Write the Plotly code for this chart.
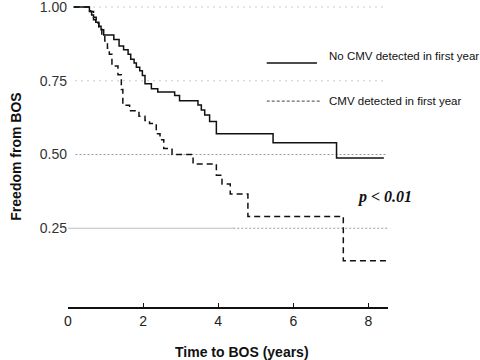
import plotly.graph_objects as go

# Kaplan-Meier style step data (time in years, freedom from BOS)
no_cmv_t = [0.15, 0.57, 0.63, 0.68, 0.74, 0.82, 0.88, 0.95, 1.22, 1.36, 1.48, 1.60, 1.67, 1.76,
            1.82, 1.91, 1.98, 2.05, 2.22, 2.39, 2.84, 2.97, 3.46, 3.55, 3.64, 3.77, 3.95,
            5.46, 7.15, 8.41]
no_cmv_s = [1.00, 0.985, 0.973, 0.957, 0.948, 0.935, 0.923, 0.905, 0.89, 0.868, 0.855, 0.84,
            0.823, 0.81, 0.796, 0.784, 0.768, 0.74, 0.723, 0.712, 0.70, 0.682, 0.668, 0.651,
            0.634, 0.612, 0.57, 0.54, 0.488, 0.488]

cmv_t = [0.15, 0.60, 0.68, 0.75, 0.82, 0.90, 0.98, 1.05, 1.10, 1.17, 1.33, 1.42, 1.46, 1.64,
         1.89, 2.05, 2.17, 2.35, 2.45, 2.55, 2.77, 3.33, 3.95, 4.10, 4.32, 4.79, 7.33, 8.49]
cmv_s = [1.00, 0.985, 0.965, 0.945, 0.925, 0.905, 0.885, 0.86, 0.84, 0.80, 0.77, 0.72, 0.667,
         0.648, 0.63, 0.615, 0.605, 0.57, 0.55, 0.52, 0.50, 0.468, 0.43, 0.40, 0.366, 0.29,
         0.14, 0.14]

x_ticks = [0, 2, 4, 6, 8]
y_ticks = [0.25, 0.50, 0.75, 1.00]
y_tick_text = ["0.25", "0.50", "0.75", "1.00"]

legend_names = ["No CMV detected in first year", "CMV detected in first year"]

fig = go.Figure()

fig.add_trace(go.Scatter(
    x=no_cmv_t, y=no_cmv_s, mode="lines", line_shape="hv",
    line=dict(color="#111111", width=1.5), name=legend_names[0], showlegend=False,
))
fig.add_trace(go.Scatter(
    x=cmv_t, y=cmv_s, mode="lines", line_shape="hv",
    line=dict(color="#111111", width=1.5, dash="6px,4px"), name=legend_names[1], showlegend=False,
))

shapes = []
# reference lines
for yv, dash in [(1.00, "1px,5px"), (0.75, "1px,5px"), (0.50, "2px,2px")]:
    shapes.append(dict(type="line", xref="x", yref="y", x0=0.2, x1=8.5, y0=yv, y1=yv,
                       line=dict(color="#9a9a9a", width=1, dash=dash), layer="below"))
shapes.append(dict(type="line", xref="x", yref="y", x0=-0.17, x1=4.4, y0=0.25, y1=0.25,
                   line=dict(color="#bdbdbd", width=1), layer="below"))
shapes.append(dict(type="line", xref="x", yref="y", x0=4.4, x1=8.5, y0=0.25, y1=0.25,
                   line=dict(color="#9a9a9a", width=1, dash="2px,2px"), layer="below"))
# manual legend samples
shapes.append(dict(type="line", xref="paper", yref="paper", x0=0.621, x1=0.778, y0=0.811, y1=0.811,
                   line=dict(color="#111111", width=1.5)))
shapes.append(dict(type="line", xref="paper", yref="paper", x0=0.621, x1=0.787, y0=0.684, y1=0.684,
                   line=dict(color="#444444", width=1, dash="3px,2px")))

annotations = [
    dict(xref="paper", yref="paper", x=0.809, y=0.834, xanchor="left", yanchor="middle",
         text=legend_names[0], showarrow=False,
         font=dict(family="Liberation Sans", size=11.5, color="#111111")),
    dict(xref="paper", yref="paper", x=0.809, y=0.684, xanchor="left", yanchor="middle",
         text=legend_names[1], showarrow=False,
         font=dict(family="Liberation Sans", size=11.5, color="#111111")),
    dict(xref="paper", yref="paper", x=0.99, y=0.365, xanchor="center", yanchor="middle",
         text="<b><i>p &lt; 0.01</i></b>", showarrow=False,
         font=dict(family="Liberation Serif", size=16, color="#111111")),
    dict(xref="paper", yref="paper", x=0.543, y=-0.148, xanchor="center", yanchor="middle",
         text="<b>Time to BOS (years)</b>", showarrow=False,
         font=dict(family="Liberation Sans", size=14, color="#111111")),
]

fig.update_layout(
    width=480, height=360,
    margin=dict(l=68, r=92, t=6, b=53, autoexpand=False),
    plot_bgcolor="white", paper_bgcolor="white",
    shapes=shapes, annotations=annotations,
    showlegend=False,
    font=dict(family="Liberation Sans", size=13, color="#222222"),
)
fig.update_xaxes(
    range=[0, 8.52], tickvals=x_ticks, ticks="inside", ticklen=4, tickwidth=1, tickcolor="#111111",
    showline=True, linecolor="#111111", linewidth=1.5, showgrid=False, zeroline=False,
    tickfont=dict(size=14, color="#222222"), automargin=False,
)
fig.update_yaxes(
    range=[-0.017, 1.0034], tickvals=y_ticks, ticktext=y_tick_text, ticks="",
    showline=False, showgrid=False, zeroline=False, automargin=False,
    ticklabeloverflow="allow",
    tickfont=dict(size=14, color="#333333"),
    title=dict(text="<b>Freedom from BOS</b>", font=dict(size=14, color="#111111"), standoff=14),
)

fig.write_html("out.html", config={"displayModeBar": False},
               post_script="document.body.style.margin='0px';")
